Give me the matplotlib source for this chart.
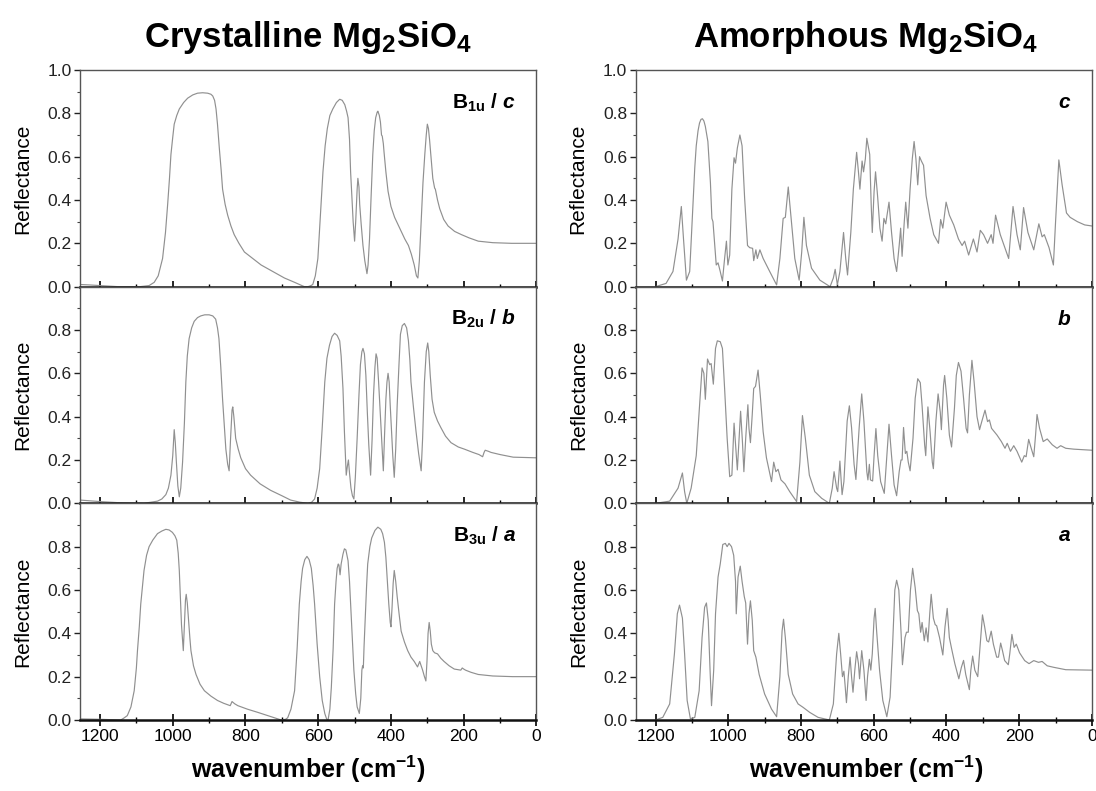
import numpy as np
import matplotlib
matplotlib.use("Agg")
import matplotlib.pyplot as plt
from matplotlib.ticker import MultipleLocator, FormatStrFormatter

plt.rcParams['font.family'] = 'Liberation Sans'
plt.rcParams['mathtext.fontset'] = 'custom'
plt.rcParams['mathtext.rm'] = 'Liberation Sans:bold'
plt.rcParams['mathtext.bf'] = 'Liberation Sans:bold'
plt.rcParams['mathtext.it'] = 'Liberation Sans:italic:bold'

# ---- crystalline forsterite, B1u / c ----
wn_cry_c = [1255, 1230, 1200, 1150, 1090, 1065, 1051, 1040, 1028, 1020, 1014, 1009, 1005, 1000, 996,
            989, 982, 970, 959, 945, 932, 918, 904, 895, 890, 885, 881, 877, 872, 867, 863, 856,
            849, 840, 831, 818, 803, 780, 757, 725, 693, 665, 645, 638, 628, 620, 615, 608, 601,
            594, 587, 581, 575, 568, 560, 550, 541, 534, 527, 522, 518, 514, 511, 507, 504, 500,
            497, 493, 491, 488, 486, 482, 477, 472, 466, 463, 459, 455, 450, 446, 442, 438, 436,
            432, 429, 426, 424, 421, 419, 414, 408, 400, 390, 376, 362, 352, 344, 336, 330, 326,
            322, 317, 312, 307, 303, 300, 297, 294, 290, 285, 280, 278, 272, 266, 255, 243, 225,
            206, 185, 160, 120, 68, 0]
r_cry_c = [0.01, 0.008, 0.005, 0.0, 0.0, 0.005, 0.02, 0.05, 0.13, 0.25, 0.38, 0.50, 0.61, 0.69, 0.75,
           0.79, 0.82, 0.85, 0.87, 0.885, 0.893, 0.895, 0.893, 0.888, 0.88, 0.86, 0.82, 0.75, 0.64, 0.54, 0.45, 0.38,
           0.33, 0.28, 0.24, 0.20, 0.16, 0.13, 0.10, 0.07, 0.04, 0.02, 0.005, 0.0, 0.0, 0.005, 0.01, 0.05, 0.13,
           0.33, 0.53, 0.65, 0.73, 0.79, 0.82, 0.85, 0.865, 0.86, 0.84, 0.81, 0.78, 0.68, 0.53, 0.40, 0.30, 0.21,
           0.30, 0.45, 0.50, 0.46, 0.38, 0.29, 0.19, 0.12, 0.06, 0.10, 0.22, 0.40, 0.61, 0.72, 0.78, 0.805, 0.81,
           0.79, 0.76, 0.70, 0.695, 0.66, 0.62, 0.53, 0.44, 0.37, 0.32, 0.27, 0.22, 0.19, 0.15, 0.10, 0.05, 0.04,
           0.12, 0.30, 0.48, 0.61, 0.70, 0.75, 0.73, 0.68, 0.60, 0.50, 0.455, 0.45, 0.40, 0.36, 0.31, 0.28, 0.255,
           0.24, 0.225, 0.21, 0.203, 0.20, 0.20]

# ---- crystalline, B2u / b ----
wn_cry_b = [1255, 1230, 1200, 1150, 1079, 1042, 1030, 1019, 1012, 1005, 1000, 996, 993, 990, 986,
            982, 978, 973, 968, 964, 960, 955, 948, 941, 932, 923, 912, 900, 890, 882, 877, 873,
            868, 863, 858, 854, 849, 845, 841, 837, 835, 832, 827, 820, 813, 800, 786, 760, 731,
            700, 676, 650, 628, 618, 610, 603, 596, 589, 582, 576, 569, 562, 555, 548, 541, 537,
            532, 528, 523, 520, 517, 514, 510, 506, 502, 498, 493, 488, 484, 480, 477, 473, 469,
            465, 461, 456, 452, 448, 444, 441, 438, 434, 429, 425, 421, 418, 414, 411, 408, 405,
            402, 398, 395, 391, 387, 383, 378, 374, 369, 363, 357, 352, 348, 345, 338, 331, 324,
            317, 313, 308, 303, 299, 296, 292, 287, 281, 272, 263, 250, 235, 215, 198, 175, 158,
            148, 144, 141, 132, 125, 100, 64, 0]
r_cry_b = [0.015, 0.012, 0.008, 0.003, 0.0, 0.01, 0.02, 0.04, 0.07, 0.13, 0.22, 0.34, 0.28, 0.19, 0.08,
           0.03, 0.07, 0.19, 0.37, 0.56, 0.68, 0.76, 0.81, 0.84, 0.857, 0.865, 0.87, 0.87, 0.865, 0.85, 0.81, 0.76,
           0.63, 0.48, 0.35, 0.25, 0.18, 0.15, 0.30, 0.43, 0.445, 0.40, 0.30, 0.25, 0.21, 0.16, 0.13, 0.09, 0.06,
           0.035, 0.015, 0.005, 0.0, 0.005, 0.02, 0.07, 0.16, 0.35, 0.56, 0.67, 0.73, 0.77, 0.785, 0.775, 0.75, 0.68,
           0.53, 0.33, 0.13, 0.17, 0.20, 0.14, 0.07, 0.035, 0.02, 0.12, 0.30, 0.50, 0.64, 0.70, 0.715, 0.69, 0.59,
           0.42, 0.27, 0.13, 0.29, 0.50, 0.63, 0.69, 0.67, 0.56, 0.40, 0.27, 0.15, 0.30, 0.48, 0.56, 0.60, 0.56,
           0.45, 0.32, 0.22, 0.12, 0.25, 0.45, 0.64, 0.78, 0.82, 0.83, 0.81, 0.75, 0.66, 0.56, 0.44, 0.33, 0.23,
           0.15, 0.30, 0.56, 0.70, 0.74, 0.70, 0.59, 0.48, 0.42, 0.38, 0.35, 0.31, 0.28, 0.26, 0.25, 0.235, 0.225,
           0.215, 0.235, 0.245, 0.24, 0.235, 0.225, 0.213, 0.21]

# ---- crystalline, B3u / a ----
wn_cry_a = [1255, 1200, 1143, 1135, 1125, 1115, 1106, 1100, 1097, 1092, 1088, 1083, 1079, 1072, 1065,
            1055, 1042, 1030, 1019, 1010, 1001, 994, 989, 985, 982, 979, 976, 973, 971, 969, 967,
            965, 963, 960, 957, 953, 950, 943, 936, 925, 913, 895, 877, 860, 842, 837, 830, 821,
            795, 766, 735, 702, 690, 684, 675, 665, 658, 652, 647, 643, 637, 631, 625, 619, 614,
            610, 603, 596, 589, 582, 577, 573, 568, 564, 559, 555, 551, 548, 545, 543, 540, 537,
            532, 528, 524, 518, 514, 511, 506, 502, 497, 493, 487, 483, 480, 478, 476, 474, 471,
            467, 464, 458, 453, 444, 436, 428, 423, 418, 414, 410, 406, 402, 400, 397, 394, 391,
            387, 383, 377, 372, 363, 354, 345, 336, 327, 321, 317, 313, 308, 304, 301, 298, 295,
            292, 289, 285, 280, 272, 263, 254, 240, 226, 208, 204, 200, 195, 180, 160, 120, 66, 0]
r_cry_a = [0.005, 0.003, 0.0, 0.008, 0.02, 0.06, 0.135, 0.24, 0.32, 0.43, 0.535, 0.62, 0.69, 0.76, 0.80,
           0.83, 0.86, 0.872, 0.88, 0.877, 0.866, 0.85, 0.83, 0.77, 0.69, 0.57, 0.44, 0.37, 0.32, 0.40, 0.49,
           0.555, 0.58, 0.54, 0.47, 0.38, 0.32, 0.25, 0.21, 0.165, 0.135, 0.11, 0.09, 0.077, 0.066, 0.085, 0.075, 0.066,
           0.05, 0.035, 0.018, 0.0, 0.003, 0.01, 0.05, 0.135, 0.33, 0.535, 0.64, 0.70, 0.74, 0.755, 0.74, 0.70, 0.62,
           0.535, 0.35, 0.20, 0.09, 0.03, 0.005, 0.0, 0.05, 0.15, 0.33, 0.535, 0.64, 0.70, 0.72, 0.715, 0.67, 0.72,
           0.765, 0.79, 0.785, 0.735, 0.64, 0.535, 0.37, 0.23, 0.12, 0.06, 0.03, 0.10, 0.23, 0.25, 0.24, 0.34, 0.46,
           0.62, 0.72, 0.80, 0.84, 0.875, 0.89, 0.88, 0.86, 0.82, 0.75, 0.64, 0.535, 0.45, 0.43, 0.52, 0.63, 0.69,
           0.64, 0.57, 0.48, 0.41, 0.36, 0.32, 0.29, 0.27, 0.245, 0.27, 0.25, 0.23, 0.20, 0.18, 0.27, 0.40, 0.45,
           0.41, 0.35, 0.32, 0.31, 0.305, 0.285, 0.27, 0.25, 0.235, 0.23, 0.24, 0.235, 0.23, 0.22, 0.21, 0.203, 0.20, 0.20]

# ---- amorphous, c ----
wn_am_c = [1200, 1171, 1152, 1138, 1129, 1123, 1115, 1106, 1097, 1092, 1088, 1083, 1079, 1075, 1071,
           1067, 1063, 1059, 1056, 1049, 1045, 1042, 1037, 1033, 1028, 1022, 1016, 1010, 1005, 1001,
           996, 990, 984, 980, 975, 968, 962, 955, 947, 941, 933, 930, 924, 920, 913, 904, 886, 867,
           858, 849, 843, 835, 829, 817, 805, 798, 792, 785, 771, 748, 720, 711, 706, 700, 693, 683,
           677, 672, 663, 656, 647, 642, 638, 632, 628, 623, 619, 611, 607, 604, 599, 595, 589, 583,
           577, 572, 567, 558, 551, 544, 537, 530, 526, 522, 516, 512, 506, 500, 494, 489, 484, 479,
           474, 469, 463, 456, 445, 435, 422, 416, 410, 401, 392, 380, 367, 357, 350, 339, 326, 316,
           307, 298, 287, 277, 272, 265, 252, 229, 217, 206, 197, 188, 176, 160, 146, 137, 131, 118,
           106, 100, 91, 82, 70, 60, 40, 20, 0]
r_am_c = [0.0, 0.015, 0.07, 0.22, 0.37, 0.22, 0.03, 0.07, 0.38, 0.55, 0.65, 0.72, 0.755, 0.772, 0.775,
          0.765, 0.74, 0.70, 0.67, 0.48, 0.315, 0.30, 0.19, 0.10, 0.11, 0.07, 0.026, 0.13, 0.21, 0.10,
          0.146, 0.45, 0.595, 0.57, 0.64, 0.70, 0.65, 0.41, 0.19, 0.18, 0.177, 0.12, 0.17, 0.13, 0.17, 0.13, 0.07, 0.008,
          0.13, 0.315, 0.32, 0.46, 0.35, 0.13, 0.03, 0.16, 0.32, 0.19, 0.085, 0.03, 0.0, 0.04, 0.08, 0.008, 0.07, 0.25,
          0.13, 0.054, 0.25, 0.45, 0.62, 0.53, 0.45, 0.58, 0.53, 0.59, 0.685, 0.61, 0.38, 0.25, 0.44, 0.53, 0.41, 0.27,
          0.21, 0.315, 0.29, 0.39, 0.25, 0.13, 0.07, 0.19, 0.27, 0.14, 0.30, 0.39, 0.27, 0.45, 0.59, 0.67, 0.59, 0.47,
          0.60, 0.58, 0.56, 0.42, 0.315, 0.24, 0.20, 0.31, 0.27, 0.39, 0.33, 0.285, 0.22, 0.19, 0.21, 0.146, 0.22, 0.16,
          0.26, 0.24, 0.20, 0.24, 0.20, 0.33, 0.24, 0.13, 0.37, 0.24, 0.17, 0.365, 0.25, 0.17, 0.29, 0.23, 0.24, 0.18,
          0.10, 0.30, 0.585, 0.47, 0.34, 0.32, 0.30, 0.285, 0.28]

# ---- amorphous, b ----
wn_am_b = [1200, 1161, 1138, 1126, 1120, 1114, 1102, 1088, 1079, 1072, 1067, 1063, 1057, 1051, 1047,
           1041, 1035, 1030, 1022, 1016, 1010, 1003, 996, 990, 984, 979, 975, 970, 966, 961, 957,
           952, 946, 943, 939, 934, 930, 925, 918, 912, 904, 895, 881, 875, 869, 863, 855, 844, 831,
           812, 803, 796, 788, 777, 762, 743, 722, 714, 709, 702, 699, 693, 687, 682, 673, 667, 661,
           654, 649, 640, 633, 627, 619, 616, 612, 609, 603, 599, 594, 589, 581, 571, 564, 558, 551,
           544, 537, 530, 525, 522, 518, 513, 509, 505, 500, 492, 486, 479, 472, 467, 460, 457, 451,
           445, 439, 436, 429, 423, 417, 414, 408, 405, 399, 392, 386, 378, 373, 367, 360, 353, 346,
           342, 337, 330, 324, 316, 309, 303, 294, 287, 282, 276, 261, 249, 239, 233, 224, 215, 206,
           193, 186, 181, 174, 167, 160, 155, 151, 144, 134, 123, 109, 96, 86, 72, 50, 0]
r_am_b = [0.0, 0.01, 0.07, 0.14, 0.054, 0.0, 0.07, 0.22, 0.45, 0.625, 0.60, 0.48, 0.666, 0.64, 0.645,
          0.55, 0.715, 0.75, 0.746, 0.715, 0.53, 0.30, 0.123, 0.13, 0.37, 0.25, 0.154, 0.30, 0.425, 0.285, 0.146,
          0.30, 0.455, 0.346, 0.28, 0.41, 0.53, 0.54, 0.615, 0.50, 0.33, 0.21, 0.10, 0.19, 0.146, 0.157, 0.108, 0.09, 0.054,
          0.008, 0.19, 0.405, 0.30, 0.13, 0.054, 0.023, 0.0, 0.07, 0.146, 0.07, 0.054, 0.195, 0.04, 0.10, 0.38, 0.45, 0.35,
          0.18, 0.11, 0.35, 0.505, 0.38, 0.146, 0.108, 0.18, 0.108, 0.103, 0.22, 0.345, 0.22, 0.10, 0.046, 0.22, 0.365, 0.22,
          0.085, 0.035, 0.146, 0.20, 0.20, 0.35, 0.23, 0.24, 0.19, 0.15, 0.30, 0.485, 0.575, 0.557, 0.45, 0.27, 0.22, 0.445,
          0.33, 0.19, 0.16, 0.38, 0.505, 0.42, 0.34, 0.546, 0.59, 0.485, 0.315, 0.26, 0.44, 0.59, 0.65, 0.61, 0.485, 0.346,
          0.325, 0.50, 0.66, 0.56, 0.40, 0.34, 0.377, 0.43, 0.377, 0.385, 0.346, 0.315, 0.285, 0.254, 0.277, 0.24, 0.266, 0.24,
          0.19, 0.22, 0.215, 0.295, 0.254, 0.215, 0.315, 0.41, 0.346, 0.285, 0.297, 0.27, 0.254, 0.266, 0.254, 0.25, 0.245]

# ---- amorphous, a ----
wn_am_a = [1200, 1180, 1161, 1148, 1140, 1134, 1126, 1120, 1113, 1104, 1092, 1080, 1072, 1065, 1060,
           1055, 1050, 1046, 1040, 1035, 1028, 1022, 1015, 1008, 1003, 998, 991, 985, 980, 978, 973,
           967, 962, 956, 952, 947, 943, 939, 934, 930, 924, 915, 900, 881, 867, 858, 852, 848, 843,
           835, 823, 808, 794, 776, 753, 722, 711, 702, 696, 691, 686, 682, 679, 675, 670, 665, 661,
           657, 652, 647, 642, 639, 633, 627, 621, 617, 612, 608, 604, 599, 596, 592, 584, 575, 564,
           555, 548, 542, 537, 531, 525, 521, 514, 510, 505, 499, 493, 486, 480, 476, 471, 467, 461,
           456, 451, 446, 442, 436, 431, 427, 419, 410, 404, 398, 392, 386, 377, 366, 359, 353, 347,
           337, 333, 328, 322, 314, 307, 301, 295, 289, 284, 277, 271, 262, 257, 251, 246, 240, 230,
           226, 220, 214, 208, 199, 185, 173, 160, 147, 137, 123, 105, 72, 0]
r_am_a = [0.0, 0.012, 0.074, 0.305, 0.49, 0.53, 0.47, 0.305, 0.09, 0.005, 0.012, 0.135, 0.38, 0.52, 0.54,
          0.46, 0.23, 0.066, 0.23, 0.49, 0.66, 0.72, 0.81, 0.815, 0.80, 0.815, 0.80, 0.76, 0.64, 0.49, 0.66,
          0.71, 0.64, 0.57, 0.54, 0.35, 0.49, 0.55, 0.46, 0.32, 0.29, 0.21, 0.12, 0.05, 0.015, 0.20, 0.41, 0.465, 0.38,
          0.21, 0.12, 0.074, 0.058, 0.035, 0.012, 0.0, 0.074, 0.305, 0.40, 0.305, 0.20, 0.225, 0.166, 0.08, 0.20, 0.29, 0.20,
          0.128, 0.23, 0.315, 0.26, 0.19, 0.32, 0.23, 0.09, 0.20, 0.28, 0.23, 0.305, 0.47, 0.515, 0.41, 0.23, 0.09, 0.015,
          0.105, 0.35, 0.60, 0.645, 0.60, 0.41, 0.255, 0.38, 0.405, 0.405, 0.60, 0.70, 0.61, 0.505, 0.49, 0.405, 0.45, 0.366,
          0.425, 0.36, 0.49, 0.58, 0.47, 0.44, 0.435, 0.38, 0.30, 0.43, 0.515, 0.38, 0.33, 0.26, 0.19, 0.243, 0.275, 0.21,
          0.14, 0.23, 0.295, 0.23, 0.20, 0.35, 0.485, 0.43, 0.366, 0.36, 0.41, 0.35, 0.29, 0.29, 0.355, 0.32, 0.274, 0.255,
          0.305, 0.395, 0.335, 0.35, 0.31, 0.274, 0.26, 0.274, 0.266, 0.27, 0.25, 0.243, 0.232, 0.23]

panels = [
    [(wn_cry_c, r_cry_c, r'B$_{\mathbf{1u}}$ / $c$'), (wn_am_c, r_am_c, r'$c$')],
    [(wn_cry_b, r_cry_b, r'B$_{\mathbf{2u}}$ / $b$'), (wn_am_b, r_am_b, r'$b$')],
    [(wn_cry_a, r_cry_a, r'B$_{\mathbf{3u}}$ / $a$'), (wn_am_a, r_am_a, r'$a$')],
]

fig, axes = plt.subplots(3, 2, figsize=(10.96, 7.91), dpi=100)
fig.subplots_adjust(left=0.073, right=0.9963, top=0.9115, bottom=0.0898,
                    hspace=0.0, wspace=0.217)

for i in range(3):
    for j in range(2):
        ax = axes[i, j]
        wn, r, lab = panels[i][j]
        ax.plot(wn, r, color='#909090', lw=0.85)
        ax.set_xlim(1255, 0)
        ax.set_ylim(0, 1.0)
        ax.xaxis.set_major_locator(MultipleLocator(200))
        ax.xaxis.set_minor_locator(MultipleLocator(100))
        if i == 0:
            ax.set_yticks([0, 0.2, 0.4, 0.6, 0.8, 1.0])
        else:
            ax.set_yticks([0, 0.2, 0.4, 0.6, 0.8])
        ax.yaxis.set_minor_locator(MultipleLocator(0.1))
        ax.yaxis.set_major_formatter(FormatStrFormatter('%.1f'))
        ax.tick_params(axis='x', which='major', direction='inout', length=9, width=1.2,
                       labelsize=12.5, labelbottom=(i == 2), pad=2)
        ax.tick_params(axis='x', which='minor', direction='inout', length=5, width=1.0)
        ax.tick_params(axis='y', which='major', direction='out', length=4, width=1.0,
                       labelsize=12.5, pad=2, colors='#222222')
        ax.tick_params(axis='y', which='minor', direction='out', length=2.5, width=0.8,
                       colors='#444444')
        for s in ['top', 'right', 'left']:
            ax.spines[s].set_color('#555555')
            ax.spines[s].set_linewidth(1.0)
        ax.spines['bottom'].set_color('#111111')
        ax.spines['bottom'].set_linewidth(1.8)
        ax.set_ylabel('Reflectance', fontsize=15, labelpad=11)
        ax.text(0.955, 0.85, lab, transform=ax.transAxes, ha='right', va='center',
                fontsize=15, fontweight='bold')

fig.text(0.281, 0.952, r'Crystalline Mg$_\mathbf{2}$SiO$_\mathbf{4}$', ha='center', va='center',
         fontsize=25, fontweight='bold')
fig.text(0.790, 0.952, r'Amorphous Mg$_\mathbf{2}$SiO$_\mathbf{4}$', ha='center', va='center',
         fontsize=25, fontweight='bold')
fig.text(0.281, 0.027, r'wavenumber (cm$^\mathbf{-1}$)', ha='center', va='center',
         fontsize=18, fontweight='bold')
fig.text(0.790, 0.027, r'wavenumber (cm$^\mathbf{-1}$)', ha='center', va='center',
         fontsize=18, fontweight='bold')

fig.savefig('out.png', dpi=100)
